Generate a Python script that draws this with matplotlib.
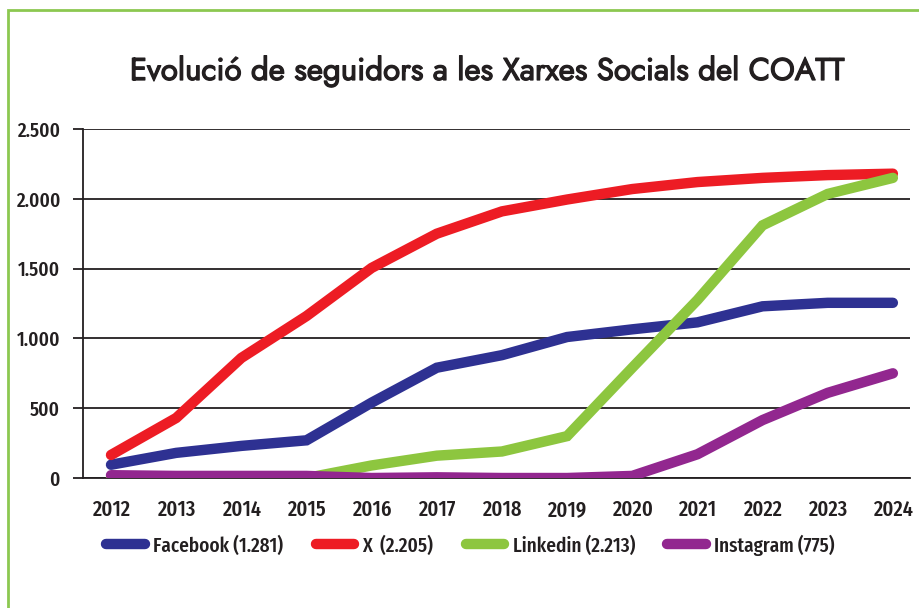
import matplotlib.pyplot as plt
import matplotlib.patheffects as pe
from matplotlib.patches import Rectangle
from matplotlib.ticker import FuncFormatter

# data
years = [2012, 2013, 2014, 2015, 2016, 2017, 2018, 2019, 2020, 2021, 2022, 2023, 2024]
facebook = [95, 180, 230, 270, 540, 790, 880, 1010, 1065, 1115, 1230, 1255, 1255]
x_twitter = [165, 430, 860, 1160, 1505, 1750, 1910, 1995, 2070, 2120, 2150, 2170, 2180]
linkedin = [0, 0, 0, 0, 90, 160, 190, 300, 790, 1275, 1810, 2035, 2150]
instagram = [20, 15, 15, 15, 0, 5, 0, 0, 15, 170, 415, 610, 750]

labels = ['Facebook (1.281)', 'X  (2.205)', 'Linkedin (2.213)', 'Instagram (775)']
colors = ['#2e3192', '#ed1c24', '#8dc63f', '#92278f']
y_ticks = [0, 500, 1000, 1500, 2000, 2500]

narrow = ['Fira Sans Extra Condensed', 'Barlow Condensed', 'DejaVu Sans']
title_font = ['Jost', 'DejaVu Sans']
ink = '#231f20'

fig = plt.figure(figsize=(9.19, 6.08), dpi=100)
ax = fig.add_axes([0.0903, 0.2138, 0.8997, 0.574])

# green frame around the whole graphic
fig.patches.append(Rectangle((8 / 919, -0.05), 1.1, 1 - 10 / 608 + 0.05,
                             transform=fig.transFigure, fill=False,
                             edgecolor='#8cc850', linewidth=2))

series = [facebook, x_twitter, linkedin, instagram]
order = [2, 0, 1, 3]  # green under, purple on top
for i in order:
    ax.plot(years, series[i], color=colors[i], linewidth=7.5,
            solid_capstyle='round', solid_joinstyle='miter', label=labels[i], zorder=3 + i)

ax.set_xlim(2011.57, 2024.26)
ax.set_ylim(0, 2500)
ax.set_xticks(years)
ax.set_yticks(y_ticks)
ax.yaxis.set_major_formatter(FuncFormatter(lambda v, p: f'{int(v):,}'.replace(',', '.')))
ax.grid(axis='y', color=ink, linewidth=1.3)
ax.set_axisbelow(True)

for s in ['top', 'right']:
    ax.spines[s].set_visible(False)
for s in ['left', 'bottom']:
    ax.spines[s].set_color(ink)
    ax.spines[s].set_linewidth(1.3)

ax.tick_params(axis='y', length=7.5, width=1.3, color=ink, pad=9, labelsize=15)
ax.tick_params(axis='x', length=0, pad=15, labelsize=16)
for t in ax.get_xticklabels() + ax.get_yticklabels():
    t.set_family(narrow)
    t.set_weight(500)
    t.set_color(ink)

fig.text(0.531, 1 - 71 / 608, 'Evolució de seguidors a les Xarxes Socials del COATT',
         ha='center', va='center', fontsize=22.5, color=ink, family=title_font,
         path_effects=[pe.withStroke(linewidth=0.9, foreground=ink)])

handles, labs = ax.get_legend_handles_labels()
hmap = dict(zip(labs, handles))
leg = fig.legend([hmap[l] for l in labels], labels, loc='center', ncol=4,
                 bbox_to_anchor=(0.512, 1 - 545 / 608), frameon=False,
                 handlelength=1.85, handletextpad=0.4, columnspacing=1.55,
                 prop={'family': narrow, 'size': 15, 'weight': 500})
for t in leg.get_texts():
    t.set_color(ink)

fig.savefig('out.png', dpi=100)
